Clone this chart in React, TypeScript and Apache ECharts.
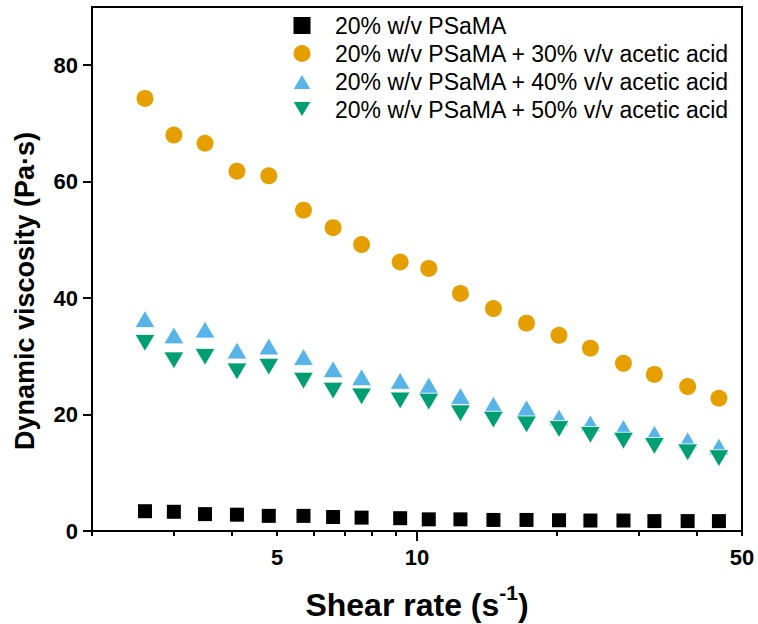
import React, { useEffect, useRef } from 'react';
import * as echarts from 'echarts';

// Shear rate (s^-1), shared by all series
const shearRate = [2.6, 3.0, 3.5, 4.1, 4.8, 5.7, 6.6, 7.6, 9.2, 10.6, 12.4, 14.6, 17.2, 20.2, 23.6, 27.8, 32.4, 38.2, 44.6];

// Dynamic viscosity (Pa·s)
const psama = [3.4, 3.3, 2.9, 2.8, 2.6, 2.6, 2.4, 2.3, 2.2, 2.0, 2.0, 1.9, 1.9, 1.85, 1.8, 1.8, 1.7, 1.7, 1.7];
const acid30 = [74.3, 68.0, 66.6, 61.8, 61.0, 55.1, 52.1, 49.2, 46.2, 45.1, 40.8, 38.2, 35.7, 33.6, 31.4, 28.8, 26.9, 24.8, 22.8];
const acid40 = [36.4, 33.6, 34.6, 31.0, 31.7, 29.9, 27.8, 26.4, 25.8, 25.0, 23.2, 21.7, 21.1, 19.5, 18.5, 17.7, 16.7, 15.6, 14.5];
const acid50 = [32.3, 29.3, 29.9, 27.4, 28.2, 25.8, 24.1, 23.1, 22.4, 22.2, 20.2, 19.1, 18.3, 17.5, 16.5, 15.5, 14.6, 13.5, 12.5];

const seriesNames = [
  '20% w/v PSaMA',
  '20% w/v PSaMA + 30% v/v acetic acid',
  '20% w/v PSaMA + 40% v/v acetic acid',
  '20% w/v PSaMA + 50% v/v acetic acid',
];

const yTicks = [0, 20, 40, 60, 80];
const xTickValues = [2, 3, 4, 5, 6, 7, 8, 9, 10, 20, 30, 40, 50];
const xLabelValues = [5, 10, 50];
const xMajorTicks = [10];

const FONT = '"Liberation Sans", Arial, Helvetica, sans-serif';

export default function App() {
  const ref = useRef<HTMLDivElement>(null);

  useEffect(() => {
    const chart = echarts.init(ref.current as HTMLDivElement, null, { renderer: 'svg' });
    const toPairs = (ys: number[]) => shearRate.map((x, i) => [x, ys[i]]);

    chart.setOption({
      animation: false,
      backgroundColor: '#ffffff',
      textStyle: { fontFamily: FONT },
      grid: {
        left: 92,
        right: 16,
        top: 7,
        bottom: 93,
        show: true,
        borderColor: '#000',
        borderWidth: 2,
        outerBoundsMode: 'none',
      },
      legend: {
        orient: 'vertical',
        left: 291,
        top: 14,
        padding: 0,
        itemWidth: 56,
        itemHeight: 17,
        itemGap: 5,
        selectedMode: false,
        textStyle: { fontFamily: FONT, fontSize: 23, color: '#000' },
        data: seriesNames,
      },
      xAxis: [
        {
          type: 'log',
          logBase: 10,
          min: 2,
          max: 50,
          axisLine: { onZero: false, lineStyle: { color: '#000', width: 2 } },
          axisTick: { customValues: xTickValues, length: 5, lineStyle: { color: '#000', width: 2 } },
          axisLabel: {
            customValues: xLabelValues,
            formatter: (v: number) => String(Math.round(v)),
            fontFamily: FONT,
            fontSize: 22,
            fontWeight: 'bold',
            color: '#000',
            margin: 15,
          },
          splitLine: { show: false },
          minorSplitLine: { show: false },
          name: '{a|Shear rate (s}{b|-1}{a|)}',
          nameLocation: 'middle',
          nameGap: 51,
          nameTextStyle: {
            rich: {
              a: { fontFamily: FONT, fontSize: 32, fontWeight: 'bold', color: '#000', lineHeight: 46 },
              b: { fontFamily: FONT, fontSize: 21, fontWeight: 'bold', color: '#000', lineHeight: 20, verticalAlign: 'top' },
            },
          },
        },
        {
          type: 'log',
          logBase: 10,
          min: 2,
          max: 50,
          position: 'bottom',
          axisLine: { show: false },
          axisTick: { customValues: xMajorTicks, length: 10, lineStyle: { color: '#000', width: 2 } },
          axisLabel: { show: false },
          splitLine: { show: false },
        },
      ],
      yAxis: {
        type: 'value',
        min: 0,
        max: 90,
        interval: 20,
        axisLine: { show: true, onZero: false, lineStyle: { color: '#000', width: 2 } },
        axisTick: { show: true, customValues: yTicks, length: 9, lineStyle: { color: '#000', width: 2 } },
        axisLabel: {
          customValues: yTicks,
          fontFamily: FONT,
          fontSize: 22,
          fontWeight: 'bold',
          color: '#000',
          margin: 14,
        },
        splitLine: { show: false },
        name: 'Dynamic viscosity (Pa·s)',
        nameLocation: 'middle',
        nameGap: 54,
        nameTextStyle: {
          fontFamily: FONT,
          fontSize: 27,
          fontWeight: 'bold',
          color: '#000',
          padding: [0, 44, 0, 0],
        },
      },
      series: [
        {
          name: seriesNames[0],
          type: 'scatter',
          symbol: 'path://M0,0H10V10H0Z',
          symbolSize: 14,
          itemStyle: { color: '#000000', opacity: 1 },
          emphasis: { disabled: true },
          data: toPairs(psama),
        },
        {
          name: seriesNames[1],
          type: 'scatter',
          symbol: 'circle',
          symbolSize: 17,
          itemStyle: { color: '#E69F00', opacity: 1 },
          emphasis: { disabled: true },
          data: toPairs(acid30),
        },
        {
          name: seriesNames[2],
          type: 'scatter',
          symbol: 'path://M10,0L20,17L0,17Z',
          symbolSize: [20, 17],
          itemStyle: { color: '#56B4E9', opacity: 1, borderColor: '#ffffff', borderWidth: 0.8 },
          emphasis: { disabled: true },
          data: toPairs(acid40),
        },
        {
          name: seriesNames[3],
          type: 'scatter',
          symbol: 'path://M0,0L20,0L10,17Z',
          symbolSize: [20, 17],
          itemStyle: { color: '#009E73', opacity: 1, borderColor: '#ffffff', borderWidth: 0.8 },
          emphasis: { disabled: true },
          data: toPairs(acid50),
        },
      ],
    });

    return () => chart.dispose();
  }, []);

  return (
    <div
      ref={ref}
      style={{ position: 'fixed', left: 0, top: 0, width: 758, height: 624, background: '#fff' }}
    />
  );
}
